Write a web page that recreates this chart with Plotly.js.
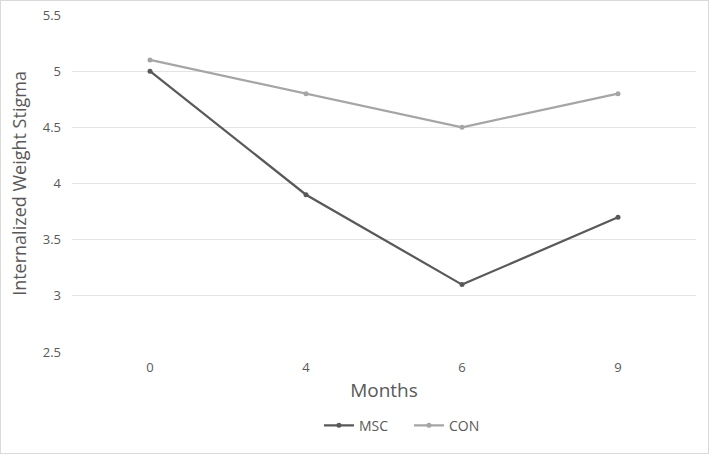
<!DOCTYPE html>
<html>
<head>
<meta charset="utf-8">
<script src="https://cdn.plot.ly/plotly-3.0.1.min.js"></script>
<style>
html,body{margin:0;padding:0;background:#fff;}
#chart{width:709px;height:454px;box-sizing:border-box;border:1px solid #d9d9d9;}
</style>
</head>
<body>
<div id="chart"></div>
<script>
const months = ['0', '4', '6', '9'];
const mscValues = [5.0, 3.9, 3.1, 3.7];
const conValues = [5.1, 4.8, 4.5, 4.8];
const yTicks = [2.5, 3, 3.5, 4, 4.5, 5, 5.5];
const yTickLabels = ['2.5', '3', '3.5', '4', '4.5', '5', '5.5'];

const fontFam = 'Open Sans, Liberation Sans, sans-serif';
const traces = [
  {x: months, y: mscValues, name: 'MSC', type: 'scatter', mode: 'lines+markers',
   line: {color: '#595959', width: 2.25}, marker: {color: '#595959', size: 5}},
  {x: months, y: conValues, name: 'CON', type: 'scatter', mode: 'lines+markers',
   line: {color: '#a5a5a5', width: 2.25}, marker: {color: '#a5a5a5', size: 5}}
];
const layout = {
  width: 707, height: 452,
  margin: {l: 71, r: 12, t: 14, b: 100},
  paper_bgcolor: '#fff', plot_bgcolor: '#fff',
  font: {family: fontFam, color: '#595959', size: 13},
  showlegend: true,
  legend: {orientation: 'h', x: 0.54, xanchor: 'center', y: -0.215, yanchor: 'middle',
           font: {size: 14, color: '#595959'}, itemwidth: 30, entrywidth: 45, tracegroupgap: 0},
  xaxis: {type: 'category', range: [-0.5, 3.5], showgrid: false, zeroline: false, showline: false,
          ticks: '', ticklabelstandoff: 6,
          tickfont: {size: 13, color: '#595959'},
          title: {text: 'Months', font: {size: 19, color: '#595959'}, standoff: 8}},
  yaxis: {range: [2.5, 5.5], tickvals: yTicks, ticktext: yTickLabels,
          showgrid: true, gridcolor: '#e3e3e3', gridwidth: 1, zeroline: false, showline: false,
          ticks: '', ticklabelstandoff: 10,
          tickfont: {size: 13, color: '#595959'},
          title: {text: 'Internalized Weight Stigma', font: {size: 18, color: '#595959'}, standoff: 11}}
};
Plotly.newPlot('chart', traces, layout, {displayModeBar: false, staticPlot: true});
</script>
</body>
</html>
